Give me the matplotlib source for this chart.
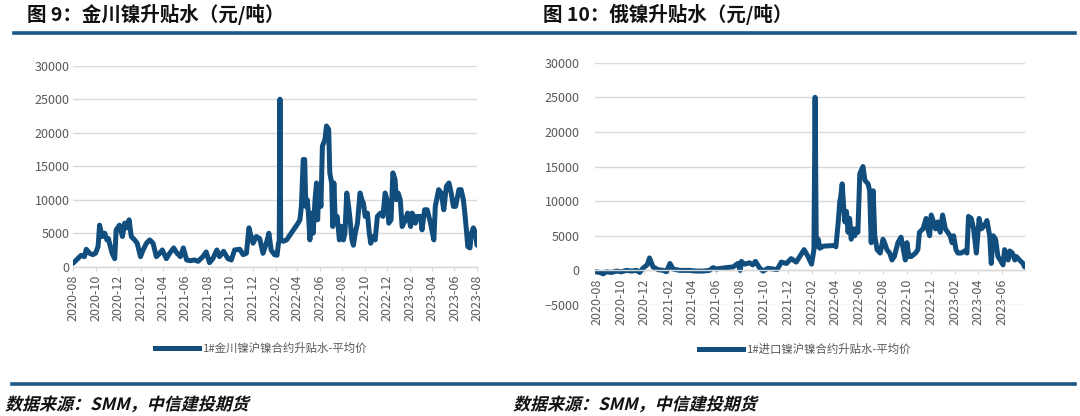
import matplotlib
matplotlib.use("Agg")
import matplotlib.pyplot as plt
import matplotlib.dates as mdates
import pandas as pd
from matplotlib.textpath import TextPath
from matplotlib.patches import PathPatch
from matplotlib.font_manager import FontProperties
from matplotlib.transforms import Affine2D, IdentityTransform
from matplotlib.lines import Line2D

plt.rcParams['font.family'] = ['Noto Sans CJK SC', 'DejaVu Sans']

# ---------------- data ----------------
jc_dates = [
    "2020-08-01", "2020-08-14", "2020-08-23", "2020-09-01", "2020-09-06", "2020-09-15", "2020-09-24",
    "2020-10-01", "2020-10-08", "2020-10-12", "2020-10-19", "2020-10-26", "2020-11-01", "2020-11-05",
    "2020-11-08", "2020-11-15", "2020-11-22", "2020-11-26", "2020-12-05", "2020-12-13", "2020-12-19",
    "2020-12-25", "2020-12-31", "2021-01-06", "2021-01-15", "2021-01-22", "2021-01-31", "2021-02-07",
    "2021-02-16", "2021-02-25", "2021-03-06", "2021-03-15", "2021-03-24", "2021-03-31", "2021-04-11",
    "2021-04-20", "2021-05-01", "2021-05-10", "2021-05-19", "2021-05-27", "2021-06-05", "2021-06-14",
    "2021-06-27", "2021-07-06", "2021-07-19", "2021-07-28", "2021-08-06", "2021-08-15", "2021-08-26",
    "2021-09-02", "2021-09-13", "2021-09-25", "2021-10-04", "2021-10-13", "2021-10-27", "2021-11-05",
    "2021-11-14", "2021-11-21", "2021-11-28", "2021-12-02", "2021-12-11", "2021-12-20", "2021-12-29",
    "2022-01-07", "2022-01-14", "2022-01-20", "2022-01-29", "2022-02-05", "2022-02-09", "2022-02-11",
    "2022-02-13", "2022-02-15", "2022-02-22", "2022-03-03", "2022-04-03", "2022-04-08", "2022-04-12",
    "2022-04-17", "2022-04-21", "2022-04-24", "2022-04-28", "2022-05-01", "2022-05-05", "2022-05-10",
    "2022-05-14", "2022-05-19", "2022-05-23", "2022-05-26", "2022-05-30", "2022-06-04", "2022-06-08",
    "2022-06-15", "2022-06-19", "2022-06-25", "2022-06-28", "2022-07-03", "2022-07-06", "2022-07-09",
    "2022-07-13", "2022-07-18", "2022-07-24", "2022-07-30", "2022-08-04", "2022-08-08", "2022-08-13",
    "2022-08-18", "2022-08-22", "2022-08-27", "2022-08-31", "2022-09-05", "2022-09-11", "2022-09-18",
    "2022-09-23", "2022-09-27", "2022-10-02", "2022-10-08", "2022-10-13", "2022-10-17", "2022-10-22",
    "2022-10-29", "2022-11-04", "2022-11-12", "2022-11-19", "2022-11-25", "2022-11-30", "2022-12-05",
    "2022-12-11", "2022-12-16", "2022-12-22", "2022-12-25", "2022-12-30", "2023-01-05", "2023-01-10",
    "2023-01-19", "2023-01-25", "2023-02-02", "2023-02-06", "2023-02-11", "2023-02-15", "2023-02-20",
    "2023-03-01", "2023-03-05", "2023-03-12", "2023-03-19", "2023-03-28", "2023-04-06", "2023-04-10",
    "2023-04-19", "2023-04-26", "2023-05-03", "2023-05-10", "2023-05-17", "2023-05-23", "2023-05-29",
    "2023-06-04", "2023-06-13", "2023-06-19", "2023-06-25", "2023-06-29", "2023-07-04", "2023-07-07",
    "2023-07-13", "2023-07-17", "2023-07-22", "2023-07-28", "2023-08-01",
]
jc_values = [
    500, 1200, 1700, 1500, 2600, 2000, 1800,
    2000, 3000, 6200, 4500, 5000, 4000, 4200,
    3500, 2000, 1200, 5500, 6200, 4500, 6500,
    5800, 7000, 4500, 4000, 3500, 1500, 2500,
    3500, 4000, 3500, 1500, 2000, 2500, 1200,
    2000, 2800, 2000, 1500, 2800, 1000, 900,
    1000, 800, 1500, 2200, 600, 1200, 2500,
    1500, 2300, 1200, 1000, 2500, 2600, 1800,
    2000, 5800, 4200, 3500, 4500, 4200, 2000,
    3500, 5000, 2500, 1800, 1700, 3500, 3800,
    25000, 4000, 3800, 4000, 6500, 7000, 9000,
    16000, 16000, 9000, 10000, 8000, 4000, 8000,
    5000, 10000, 12500, 7000, 12000, 9000, 18000,
    19000, 21000, 20500, 14000, 12500, 6000, 12500,
    6500, 7500, 4000, 6000, 4000, 5000, 11000,
    9000, 7000, 4000, 3200, 5000, 6500, 11000,
    10000, 9500, 7500, 8000, 5000, 3500, 4500,
    4000, 7500, 8000, 7500, 11000, 10000, 6500,
    7000, 14000, 13000, 10000, 11000, 10000, 6000,
    7000, 8000, 6000, 8000, 7500, 6500, 7500,
    7500, 5500, 8500, 8500, 6500, 4000, 9000,
    11500, 11000, 8500, 12000, 12500, 11000, 9000,
    9000, 11500, 11500, 10000, 8000, 5000, 3000,
    2800, 5000, 5800, 5000, 3200,
]

ru_dates = [
    "2020-07-30", "2020-08-09", "2020-08-18", "2020-08-26", "2020-09-08", "2020-09-21", "2020-10-04",
    "2020-10-16", "2020-10-29", "2020-11-11", "2020-11-19", "2020-11-27", "2020-12-08", "2020-12-14",
    "2020-12-23", "2021-01-05", "2021-01-18", "2021-01-26", "2021-02-04", "2021-02-12", "2021-03-01",
    "2021-03-26", "2021-04-12", "2021-04-29", "2021-05-16", "2021-05-25", "2021-06-02", "2021-06-15",
    "2021-06-28", "2021-07-15", "2021-07-27", "2021-08-02", "2021-08-05", "2021-08-13", "2021-08-26",
    "2021-09-03", "2021-09-10", "2021-09-20", "2021-09-29", "2021-10-12", "2021-10-25", "2021-11-04",
    "2021-11-15", "2021-11-28", "2021-12-10", "2021-12-23", "2022-01-01", "2022-01-12", "2022-01-22",
    "2022-01-31", "2022-02-06", "2022-02-09", "2022-02-12", "2022-02-17", "2022-02-21", "2022-03-02",
    "2022-03-31", "2022-04-03", "2022-04-09", "2022-04-13", "2022-04-15", "2022-04-19", "2022-04-23",
    "2022-04-26", "2022-04-30", "2022-05-04", "2022-05-08", "2022-05-12", "2022-05-17", "2022-05-21",
    "2022-05-25", "2022-05-29", "2022-06-03", "2022-06-07", "2022-06-11", "2022-06-16", "2022-06-24",
    "2022-06-28", "2022-07-02", "2022-07-07", "2022-07-11", "2022-07-17", "2022-07-25", "2022-08-01",
    "2022-08-05", "2022-08-11", "2022-08-18", "2022-08-24", "2022-08-30", "2022-09-08", "2022-09-16",
    "2022-09-22", "2022-09-27", "2022-10-01", "2022-10-06", "2022-10-12", "2022-10-23", "2022-10-29",
    "2022-11-02", "2022-11-11", "2022-11-19", "2022-11-23", "2022-11-28", "2022-12-02", "2022-12-08",
    "2022-12-13", "2022-12-19", "2022-12-25", "2022-12-31", "2023-01-07", "2023-01-13", "2023-01-19",
    "2023-01-24", "2023-01-28", "2023-02-03", "2023-02-08", "2023-02-16", "2023-02-25", "2023-03-03",
    "2023-03-07", "2023-03-14", "2023-03-20", "2023-03-27", "2023-04-03", "2023-04-09", "2023-04-17",
    "2023-04-23", "2023-04-30", "2023-05-04", "2023-05-09", "2023-05-15", "2023-05-21", "2023-05-27",
    "2023-06-03", "2023-06-07", "2023-06-11", "2023-06-16", "2023-06-20", "2023-06-27", "2023-07-03",
    "2023-07-07", "2023-07-15", "2023-07-24", "2023-07-28",
]
ru_values = [
    -200, -300, -500, -200, -300, -100, -200,
    0, -100, 0, -300, 300, 800, 1800,
    500, 100, 0, -200, 1000, 200, 0,
    0, -100, -100, 0, 400, 200, 300,
    400, 500, 1000, 0, 1300, 900, 1100,
    800, 1300, 400, -100, 300, 200, 100,
    1200, 1000, 1700, 1200, 2000, 3000, 2000,
    900, 3000, 25000, 3500, 4500, 3200, 3500,
    3600, 3400, 7000, 10000, 10500, 12500, 9000,
    7000, 8500, 5500, 7500, 4500, 6000, 5000,
    6000, 5500, 14000, 14500, 15000, 13000, 12500,
    11500, 4000, 11500, 5000, 3000, 2500, 4500,
    4000, 3000, 2500, 1500, 2000, 4000, 4800,
    3000, 1500, 4000, 2000, 2000, 2500, 3000,
    5500, 6000, 7500, 6000, 5000, 8000, 7000,
    6000, 7000, 5500, 8000, 6000, 5500, 5000,
    4000, 5000, 3000, 2500, 2500, 2800, 2500,
    7800, 7500, 6000, 2500, 7500, 6000, 6500,
    7200, 5000, 1000, 5000, 4500, 2000, 1500,
    800, 3000, 2000, 1500, 2800, 2500, 1500,
    2000, 1500, 1000, 500,
]

titles = ["图 9：金川镍升贴水（元/吨）", "图 10：俄镍升贴水（元/吨）"]
legend_labels = ["1#金川镍沪镍合约升贴水-平均价", "1#进口镍沪镍合约升贴水-平均价"]
source_text = "数据来源：SMM，中信建投期货"

# ---------------- style ----------------
W, H = 1080, 416
DPI = 100
line_color = "#114E7E"
rule_color = "#1B5888"
grid_color = "#D9D9D9"
tick_color = "#595959"
LW = 3.6

fig = plt.figure(figsize=(W / DPI, H / DPI), dpi=DPI)
fig.patch.set_facecolor("white")


def px_axes(x0, y_top, x1, y_bot):
    return [x0 / W, 1 - y_bot / H, (x1 - x0) / W, (y_bot - y_top) / H]


def style_axes(ax, ymin, ymax, xpad):
    for s in ["top", "right", "left"]:
        ax.spines[s].set_visible(False)
    ax.spines["bottom"].set_position(("data", 0))
    ax.spines["bottom"].set_color(grid_color)
    ax.spines["bottom"].set_linewidth(1.0)
    ax.set_ylim(ymin, ymax)
    ax.set_yticks(range(ymin, ymax + 1, 5000))
    ax.yaxis.grid(True, color=grid_color, linewidth=1.0)
    ax.set_axisbelow(True)
    ax.tick_params(axis="y", length=0, pad=xpad, labelsize=9, labelcolor=tick_color)
    ax.tick_params(axis="x", length=3, color=grid_color, pad=3, labelsize=9,
                   labelcolor=tick_color, labelrotation=90)
    ax.xaxis.set_major_locator(mdates.MonthLocator(bymonth=[2, 4, 6, 8, 10, 12]))
    ax.xaxis.set_major_formatter(mdates.DateFormatter("%Y-%m"))


# left chart
ax1 = fig.add_axes(px_axes(73, 65.7, 477, 266.7))
ax1.plot(pd.to_datetime(jc_dates), jc_values, color=line_color, lw=LW,
         solid_joinstyle="round", solid_capstyle="round")
style_axes(ax1, 0, 30000, 2.5)
ax1.set_xlim(pd.Timestamp("2020-08-01"), pd.Timestamp("2023-08-01"))

# right chart
ax2 = fig.add_axes(px_axes(595, 62.7, 1025, 305))
ax2.plot(pd.to_datetime(ru_dates), ru_values, color=line_color, lw=LW,
         solid_joinstyle="round", solid_capstyle="round")
style_axes(ax2, -5000, 30000, 11)
ax2.set_xlim(pd.Timestamp("2020-07-28"), pd.Timestamp("2023-07-29"))

# legends
for ax, lab, cx, cy in [(ax1, legend_labels[0], 261, 348), (ax2, legend_labels[1], 805, 349)]:
    h = Line2D([], [], color=line_color, lw=LW)
    ax.legend([h], [lab], loc="center", bbox_to_anchor=(cx / W, 1 - cy / H),
              bbox_transform=fig.transFigure, frameon=False, fontsize=8.2,
              handlelength=3.9, handletextpad=0.3, labelcolor=tick_color)

# titles
fig.text(27 / W, 1 - 14 / H, titles[0], fontsize=14, fontweight="bold",
         color="#111111", va="center", ha="left")
fig.text(543 / W, 1 - 14 / H, titles[1], fontsize=14, fontweight="bold",
         color="#111111", va="center", ha="left")

# rules
fig.add_artist(Line2D([14 / W, 1075 / W], [1 - 33 / H, 1 - 33 / H], color=rule_color,
                      lw=2.6, transform=fig.transFigure))
fig.add_artist(Line2D([12 / W, 1075 / W], [1 - 383.5 / H, 1 - 383.5 / H], color=rule_color,
                      lw=2.6, transform=fig.transFigure))

# italic bold source text (skewed path)
fp = FontProperties(family="Noto Sans CJK SC", weight="bold")
for x0 in [5, 513]:
    tp = TextPath((0, 0), source_text, size=17, prop=fp)
    tr = Affine2D().skew_deg(14, 0).translate(x0, H - 410)
    patch = PathPatch(tr.transform_path(tp), facecolor="#111111", edgecolor="none",
                      transform=IdentityTransform())
    fig.add_artist(patch)

fig.savefig("out.png", dpi=DPI, facecolor="white")
